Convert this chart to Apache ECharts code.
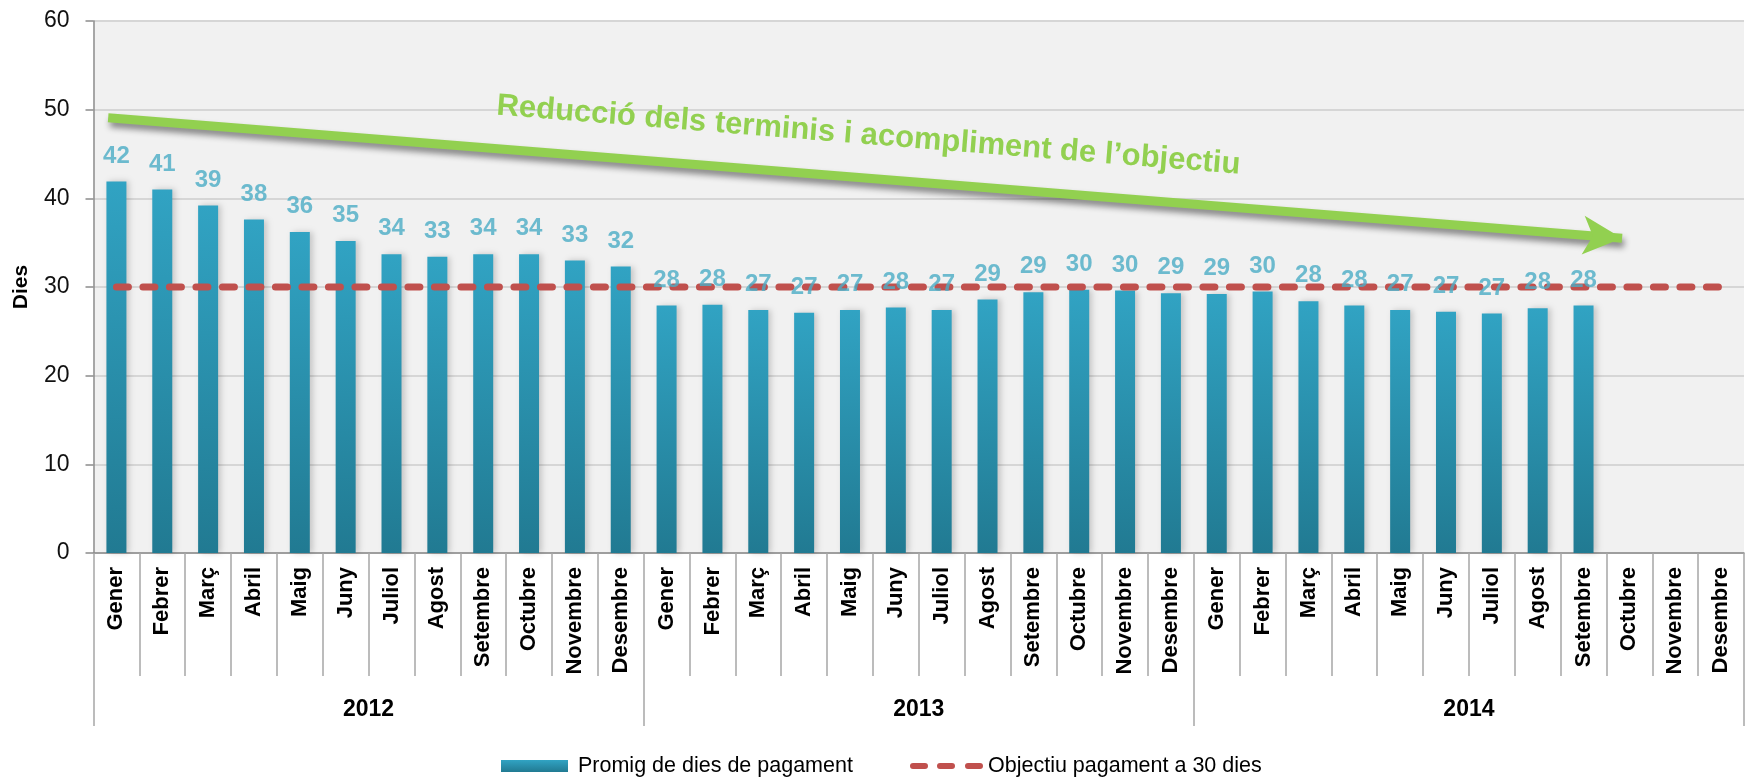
<!DOCTYPE html>
<html>
<head>
<meta charset="utf-8">
<script src="https://cdn.jsdelivr.net/npm/echarts@6/dist/echarts.min.js"></script>
<style>
  html, body { margin: 0; padding: 0; background: #ffffff; }
  #chart { width: 1746px; height: 778px; }
</style>
</head>
<body>
<div id="chart"></div>
<script>
// ---- data ----
const months = ['Gener', 'Febrer', 'Març', 'Abril', 'Maig', 'Juny', 'Juliol', 'Agost', 'Setembre', 'Octubre', 'Novembre', 'Desembre'];
const years = ['2012', '2013', '2014'];
const values2012 = [41.9, 41.0, 39.2, 37.6, 36.2, 35.2, 33.7, 33.4, 33.7, 33.7, 33.0, 32.3];
const values2013 = [27.9, 28.0, 27.4, 27.1, 27.4, 27.7, 27.4, 28.6, 29.4, 29.7, 29.6, 29.3];
const values2014 = [29.2, 29.5, 28.4, 27.9, 27.4, 27.2, 27.0, 27.6, 27.9, null, null, null];
const targetValue = 30;
const yTicks = { min: 0, max: 60, interval: 10 };
const barName = 'Promig de dies de pagament';
const lineName = 'Objectiu pagament a 30 dies';
const arrowText = 'Reducció dels terminis i acompliment de l\u2019objectiu';
const arrowStart = [-0.18, 49.1];
const arrowEnd = [32.84, 35.5];

// ---- derived ----
const categories = [];
years.forEach(y => months.forEach(m => categories.push(y + '|' + m)));
const values = values2012.concat(values2013, values2014);
const target = categories.map(() => targetValue);

const NARROW = '"Liberation Sans", Arial, sans-serif';
const ARIAL = '"Liberation Sans", Arial, sans-serif';
const AXIS_GRAY = '#8C8C8C';
const TICK_GRAY = '#A6A6A6';
const RED = '#C0504D';

const dashIcon = 'path://M3,0 L15,0 A3,3 0 0 1 15,6 L3,6 A3,3 0 0 1 3,0 Z ' +
  'M30,0 L42,0 A3,3 0 0 1 42,6 L30,6 A3,3 0 0 1 30,0 Z ' +
  'M58,0 L70,0 A3,3 0 0 1 70,6 L58,6 A3,3 0 0 1 58,0 Z';

const chart = echarts.init(document.getElementById('chart'), null, { renderer: 'canvas' });

const barGradient = new echarts.graphic.LinearGradient(0, 0, 0, 1, [
  { offset: 0, color: '#31A3C3' },
  { offset: 1, color: '#217A92' }
]);

const option = {
  animation: false,
  backgroundColor: '#ffffff',
  grid: {
    left: 93.5, right: 2, top: 21, bottom: 225,
    show: true, backgroundColor: '#F1F1F1', borderWidth: 0
  },
  legend: [
    {
      left: 496, top: 750, itemWidth: 67, itemHeight: 12, itemGap: 0,
      data: [{ name: barName, icon: 'rect', itemStyle: { color: barGradient } }],
      textStyle: { fontFamily: ARIAL, fontSize: 21.5, color: '#000', padding: [0, 0, 0, 5] },
      selectedMode: false
    },
    {
      left: 905, top: 750, itemWidth: 73, itemHeight: 6, itemGap: 0,
      data: [{ name: lineName, icon: dashIcon, itemStyle: { color: RED } }],
      textStyle: { fontFamily: ARIAL, fontSize: 21.5, color: '#000' },
      selectedMode: false
    }
  ],
  xAxis: [
    {
      type: 'category', data: categories, position: 'bottom',
      axisLine: { show: true, onZero: false, lineStyle: { color: AXIS_GRAY, width: 1.5 } },
      axisTick: { show: true, interval: 0, length: 123, lineStyle: { color: TICK_GRAY, width: 1.5 } },
      axisLabel: {
        interval: 0, rotate: 90, margin: 14, color: '#000',
        fontFamily: ARIAL, fontWeight: 'bold', fontSize: 22,
        formatter: v => v.split('|')[1]
      },
      splitLine: { show: false }
    },
    {
      type: 'category', data: years, position: 'bottom',
      axisLine: { show: false, onZero: false },
      axisTick: { show: true, interval: 0, length: 173, lineStyle: { color: TICK_GRAY, width: 1.5 } },
      axisLabel: { margin: 145, color: '#000', fontFamily: NARROW, fontWeight: 'bold', fontSize: 23 },
      splitLine: { show: false }
    },
    { type: 'value', min: -0.5, max: 35.5, show: false, axisLine: { onZero: false } }
  ],
  yAxis: {
    type: 'value', min: yTicks.min, max: yTicks.max, interval: yTicks.interval,
    name: 'Dies', nameLocation: 'middle', nameGap: 62,
    nameTextStyle: { fontFamily: ARIAL, fontWeight: 'bold', fontSize: 21, color: '#000' },
    axisLine: { show: true, onZero: false, lineStyle: { color: AXIS_GRAY, width: 1.5 } },
    axisTick: { show: true, length: 8, lineStyle: { color: AXIS_GRAY, width: 1.5 } },
    axisLabel: { margin: 24, fontFamily: NARROW, fontSize: 23, color: '#111' },
    splitLine: { lineStyle: { color: '#D6D6D6', width: 2 } }
  },
  series: [
    {
      name: barName, type: 'bar', xAxisIndex: 0, yAxisIndex: 0,
      data: values, barWidth: 20, z: 2,
      itemStyle: {
        color: barGradient,
        shadowColor: 'rgba(0,0,0,0.18)', shadowBlur: 6, shadowOffsetX: 3, shadowOffsetY: 0
      }
    },
    {
      name: lineName, type: 'line', xAxisIndex: 0, yAxisIndex: 0,
      data: target, symbol: 'none', z: 3,
      itemStyle: { color: RED },
      lineStyle: { color: RED, width: 7, type: [12, 14.5], cap: 'round' }
    },
    {
      type: 'scatter', xAxisIndex: 0, yAxisIndex: 0, data: values, z: 5, silent: true,
      symbolSize: 1, itemStyle: { color: 'rgba(0,0,0,0)' },
      label: {
        show: true, position: 'top', distance: 13,
        formatter: p => Math.round(Array.isArray(p.value) ? p.value[1] : p.value),
        color: '#4BACC6', fontFamily: NARROW, fontWeight: 'bold', fontSize: 24
      }
    },
    {
      type: 'line', xAxisIndex: 2, yAxisIndex: 0, z: 4, silent: true,
      data: [arrowStart, arrowEnd], showSymbol: false,
      lineStyle: { opacity: 0 },
      markLine: {
        silent: true, symbol: ['none', 'arrow'], symbolSize: [29, 39],
        lineStyle: {
          color: '#92D050', width: 9, type: 'solid',
          shadowColor: 'rgba(0,0,0,0.45)', shadowBlur: 6, shadowOffsetX: 2, shadowOffsetY: 5
        },
        itemStyle: {
          color: '#92D050',
          shadowColor: 'rgba(0,0,0,0.45)', shadowBlur: 6, shadowOffsetX: 2, shadowOffsetY: 5
        },
        label: {
          show: true, position: 'insideMiddleTop', distance: 27,
          formatter: arrowText,
          color: '#92D050', fontFamily: NARROW, fontWeight: 'bold', fontSize: 31
        },
        data: [[{ coord: arrowStart }, { coord: arrowEnd }]]
      }
    }
  ]
};

chart.setOption(option);
</script>
</body>
</html>
